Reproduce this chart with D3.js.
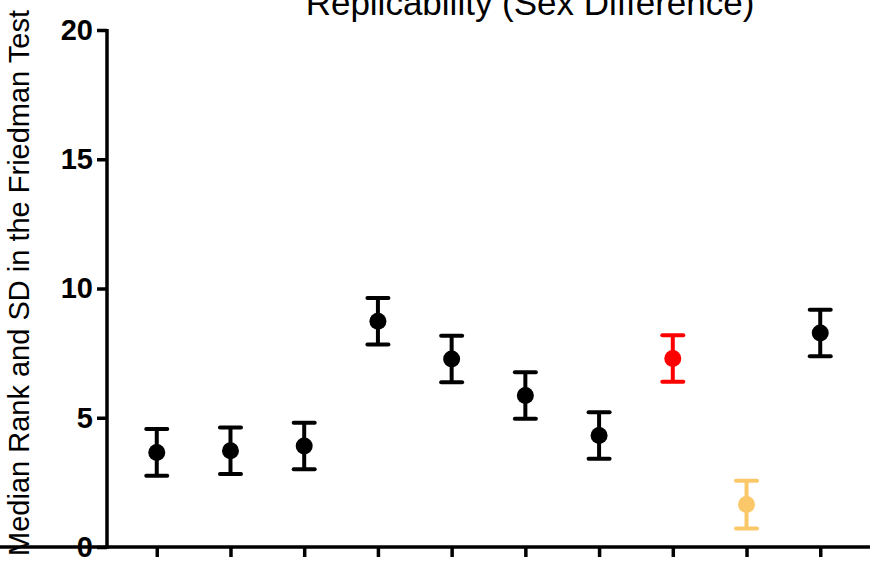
<!DOCTYPE html>
<html>
<head>
<meta charset="utf-8">
<script src="https://cdn.jsdelivr.net/npm/d3@7"></script>
<style>
  body { margin: 0; background: #fff; }
  svg text { font-family: "Liberation Sans", Arial, sans-serif; }
</style>
</head>
<body>
<div id="chart"></div>
<script>
// Median rank (dot) and SD (error bar) per group
const groups = ['g1', 'g2', 'g3', 'g4', 'g5', 'g6', 'g7', 'g8', 'g9', 'g10'];
const medians = [3.66, 3.72, 3.91, 8.73, 7.27, 5.86, 4.31, 7.29, 1.64, 8.28];
const sds = [0.9, 0.9, 0.9, 0.9, 0.9, 0.9, 0.9, 0.9, 0.92, 0.9];
const colors = ['#000', '#000', '#000', '#000', '#000', '#000', '#000', '#ff0000', '#fbc869', '#000'];
const yTicks = [0, 5, 10, 15, 20];

const width = 881, height = 565;
const margin = { top: 30, right: 11, bottom: 18, left: 107 };

const svg = d3.select('#chart')
    .append('svg')
    .attr('width', width)
    .attr('height', height);

const x = d3.scalePoint()
    .domain(groups)
    .range([margin.left, width - margin.right])
    .padding(0.675);

const y = d3.scaleLinear()
    .domain([0, 20])
    .range([height - margin.bottom, margin.top]);

// Axes
const yAxis = svg.append('g')
    .attr('transform', `translate(${margin.left},0)`)
    .call(d3.axisLeft(y).tickValues(yTicks).tickSize(10).tickSizeOuter(0).tickPadding(4));

const xAxis = svg.append('g')
    .attr('transform', `translate(0,${height - margin.bottom})`)
    .call(d3.axisBottom(x).tickSize(10).tickSizeOuter(0).tickFormat(''));

[yAxis, xAxis].forEach(a => {
    a.select('.domain').attr('stroke', '#000').attr('stroke-width', 3.5);
    a.selectAll('.tick line').attr('stroke', '#000').attr('stroke-width', 3.5);
});

yAxis.select('.domain').attr('d', `M0,${y(0) + 1.75}V${y(20) - 1}`);
xAxis.select('.domain').attr('d', `M-1.75,0H${width - margin.right}`);

yAxis.selectAll('.tick text')
    .attr('font-size', '29px')
    .attr('font-weight', 'bold')
    .attr('fill', '#000');

// Error bars
const data = groups.map((g, i) => ({ g, m: medians[i], sd: sds[i], c: colors[i] }));
const capW = 10.5;

const bars = svg.append('g')
    .selectAll('g')
    .data(data)
    .join('g');

bars.append('line')
    .attr('x1', d => x(d.g)).attr('x2', d => x(d.g))
    .attr('y1', d => y(d.m + d.sd)).attr('y2', d => y(d.m - d.sd))
    .attr('stroke', d => d.c).attr('stroke-width', 4);

bars.selectAll('.cap')
    .data(d => [{ d, v: d.m + d.sd }, { d, v: d.m - d.sd }])
    .join('line')
    .attr('class', 'cap')
    .attr('x1', e => x(e.d.g) - capW).attr('x2', e => x(e.d.g) + capW)
    .attr('y1', e => y(e.v)).attr('y2', e => y(e.v))
    .attr('stroke', e => e.d.c).attr('stroke-width', 4)
    .attr('stroke-linecap', 'round');

bars.append('circle')
    .attr('cx', d => x(d.g))
    .attr('cy', d => y(d.m))
    .attr('r', 8.5)
    .attr('fill', d => d.c);

// Title
svg.append('text')
    .attr('x', 530)
    .attr('y', 15)
    .attr('text-anchor', 'middle')
    .attr('font-size', '35px')
    .text('Replicability (Sex Difference)');

// Y label
svg.append('text')
    .attr('transform', 'rotate(-90)')
    .attr('x', -283)
    .attr('y', 29)
    .attr('text-anchor', 'middle')
    .attr('font-size', '29px')
    .text('Median Rank and SD in the Friedman Test');
</script>
</body>
</html>
